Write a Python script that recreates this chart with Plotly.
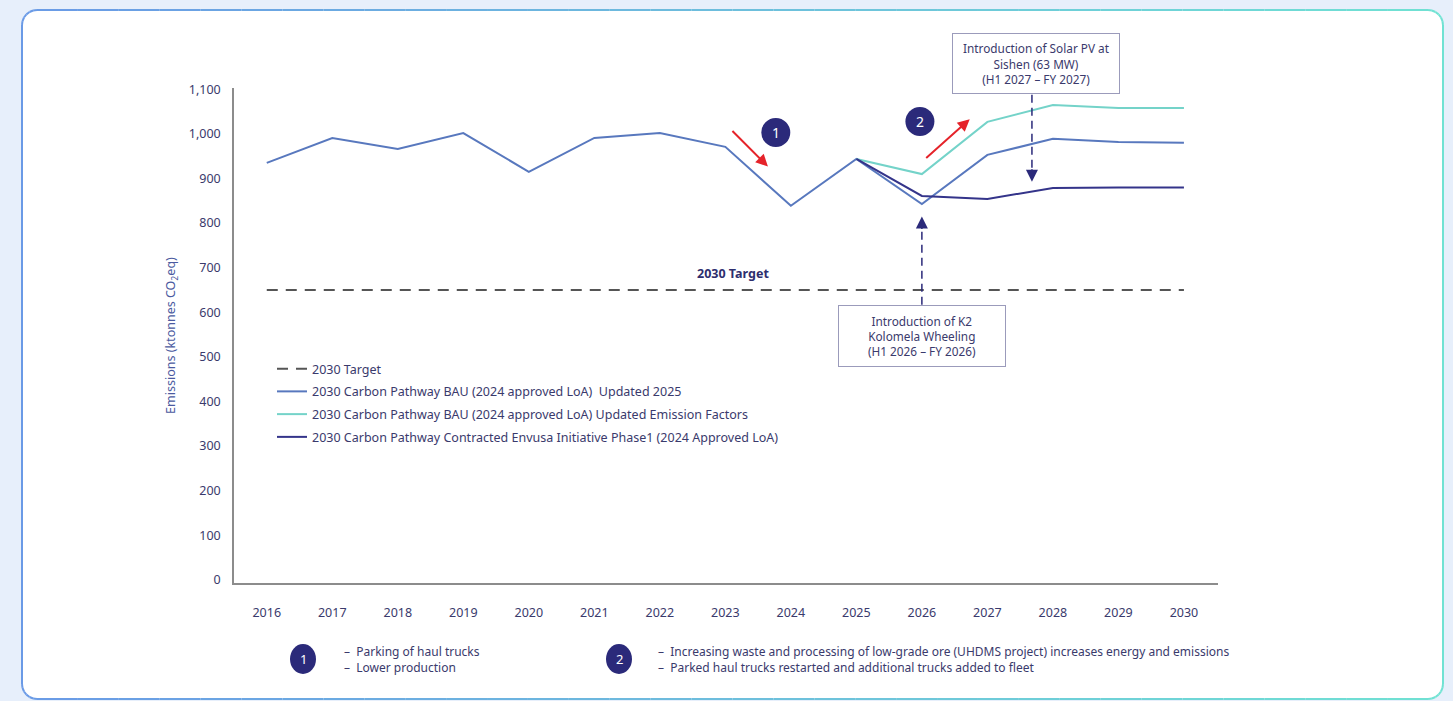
import math
import plotly.graph_objects as go

# ---- data -------------------------------------------------------------
years = list(range(2016, 2031))
bau_updated_2025 = [935, 991, 966, 1002, 915, 991, 1002, 971, 839, 944, 843, 953, 989, 982, 980]

pathway_years = list(range(2025, 2031))
bau_emission_factors = [944, 910, 1027, 1065, 1058, 1058]
envusa_phase1 = [944, 861, 854, 879, 880, 880]

target_2030 = [650] * len(years)

series_names = [
    "2030 Target",
    "2030 Carbon Pathway BAU (2024 approved LoA)  Updated 2025",
    "2030 Carbon Pathway BAU (2024 approved LoA) Updated Emission Factors",
    "2030 Carbon Pathway Contracted Envusa Initiative Phase1 (2024 Approved LoA)",
]
y_ticks = list(range(0, 1101, 100))

note_1 = ["Parking of haul trucks", "Lower production"]
note_2 = [
    "Increasing waste and processing of low-grade ore (UHDMS project) increases energy and emissions",
    "Parked haul trucks restarted and additional trucks added to fleet",
]

# ---- styling ----------------------------------------------------------
W, H = 1453, 701
ML, MR, MT, MB = 234, 235, 88, 118
PW, PH = W - ML - MR, H - MT - MB

FONT = "Noto Sans"
TXT = "#3a3a6c"
NAVY = "#2b2a7a"
BLUE = "#5878be"
TEAL = "#74d3c9"
DARK = "#34348a"
RED = "#e5232a"


def px(x):
    return (x - ML) / PW


def py(y):
    return (H - MB - y) / PH


fig = go.Figure()

fig.add_trace(go.Scatter(
    x=years, y=target_2030, mode="lines", name=series_names[0],
    line=dict(color="#555555", width=2, dash="11px,8px"), legendgroup="a"))
fig.add_trace(go.Scatter(
    x=years, y=bau_updated_2025, mode="lines", name=series_names[1],
    line=dict(color=BLUE, width=2), legendgroup="b"))
fig.add_trace(go.Scatter(
    x=pathway_years, y=bau_emission_factors, mode="lines", name=series_names[2],
    line=dict(color=TEAL, width=2), legendgroup="c"))
fig.add_trace(go.Scatter(
    x=pathway_years, y=envusa_phase1, mode="lines", name=series_names[3],
    line=dict(color=DARK, width=2), legendgroup="d"))

shapes = []
annotations = []

# ---- card background with a blue-to-teal rim --------------------------
x0, x1, y0, y1, r = 22, 1443, 10, 699, 15
shapes.append(dict(
    type="path", xref="paper", yref="paper", layer="below",
    path=(f"M{px(x0 + r)},{py(y0)} L{px(x1 - r)},{py(y0)} "
          f"Q{px(x1)},{py(y0)} {px(x1)},{py(y0 + r)} L{px(x1)},{py(y1 - r)} "
          f"Q{px(x1)},{py(y1)} {px(x1 - r)},{py(y1)} L{px(x0 + r)},{py(y1)} "
          f"Q{px(x0)},{py(y1)} {px(x0)},{py(y1 - r)} L{px(x0)},{py(y0 + r)} "
          f"Q{px(x0)},{py(y0)} {px(x0 + r)},{py(y0)} Z"),
    fillcolor="white", line=dict(width=0)))


def rim_color(x):
    t = min(max((x - x0) / (x1 - x0), 0), 1)
    c0, c1 = (106, 154, 230), (112, 226, 211)
    return "rgb(%d,%d,%d)" % tuple(round(a + (b - a) * t) for a, b in zip(c0, c1))


# rim outline as a sequence of short coloured segments
pts = []
for cx, cy, a0 in [(x1 - r, y0 + r, -90), (x1 - r, y1 - r, 0), (x0 + r, y1 - r, 90), (x0 + r, y0 + r, 180)]:
    for k in range(7):
        a = math.radians(a0 + 15 * k)
        pts.append((cx + r * math.cos(a), cy + r * math.sin(a)))
pts.append(pts[0])
dense = []
for (ax_, ay_), (bx_, by_) in zip(pts[:-1], pts[1:]):
    n = max(1, int(abs(bx_ - ax_) // 40))
    for k in range(n):
        dense.append((ax_ + (bx_ - ax_) * k / n, ay_ + (by_ - ay_) * k / n))
dense.append(pts[0])
for (ax_, ay_), (bx_, by_) in zip(dense[:-1], dense[1:]):
    shapes.append(dict(type="line", xref="paper", yref="paper", layer="below",
                       x0=px(ax_), y0=py(ay_), x1=px(bx_), y1=py(by_),
                       line=dict(color=rim_color((ax_ + bx_) / 2), width=2)))


# ---- numbered markers -------------------------------------------------
def badge(x, y, label, xref, yref, w=29, h=29, size=14):
    shapes.append(dict(type="circle", xref=xref, yref=yref,
                       xsizemode="pixel", ysizemode="pixel", xanchor=x, yanchor=y,
                       x0=-w / 2, x1=w / 2, y0=-h / 2, y1=h / 2,
                       fillcolor=NAVY, line=dict(width=0), layer="above"))
    annotations.append(dict(x=x, y=y, xref=xref, yref=yref, text=label, showarrow=False,
                            font=dict(family=FONT, size=size, color="white"),
                            xanchor="center", yanchor="middle"))


badge(2023.77, 1003, "1", "x", "y")
badge(2025.97, 1028, "2", "x", "y")
badge(px(303), py(659), "1", "paper", "paper", w=26, h=30, size=13)
badge(px(619), py(659), "2", "paper", "paper", w=26, h=30, size=13)

# ---- red trend arrows -------------------------------------------------
annotations.append(dict(x=2023.65, y=927, xref="x", yref="y", ax=-37, ay=-37, text="",
                        showarrow=True, arrowhead=2, arrowsize=1.2, arrowwidth=2, arrowcolor=RED))
annotations.append(dict(x=2026.73, y=1033, xref="x", yref="y", ax=-45, ay=40, text="",
                        showarrow=True, arrowhead=2, arrowsize=1.2, arrowwidth=2, arrowcolor=RED))

# ---- initiative call-outs ---------------------------------------------
box_font = dict(family=FONT, size=11.8, color=TXT)
shapes.append(dict(type="line", xref="x", yref="y", x0=2026.0, x1=2026.0, y0=617, y1=800,
                   line=dict(color=NAVY, width=1.5, dash="8px,5px")))
annotations.append(dict(x=2026.0, y=815, xref="x", yref="y", ax=0, ay=14, text="",
                        showarrow=True, arrowhead=2, arrowsize=1.6, arrowwidth=1.5, arrowcolor=NAVY))
shapes.append(dict(type="line", xref="x", yref="y", x0=2027.68, x1=2027.68, y0=1088, y1=910,
                   line=dict(color=NAVY, width=1.5, dash="8px,5px")))
annotations.append(dict(x=2027.68, y=893, xref="x", yref="y", ax=0, ay=-14, text="",
                        showarrow=True, arrowhead=2, arrowsize=1.6, arrowwidth=1.5, arrowcolor=NAVY))

annotations.append(dict(x=2026.0, y=546, xref="x", yref="y",
                        text="Introduction of K2<br>Kolomela Wheeling<br>(H1 2026 – FY 2026)",
                        showarrow=False, font=box_font, align="center",
                        xanchor="center", yanchor="middle",
                        width=164, height=58, bgcolor="white",
                        bordercolor="#9b9bbb", borderwidth=1, borderpad=1))
annotations.append(dict(x=2027.74, y=py(63.5), xref="x", yref="paper",
                        text="Introduction of Solar PV at<br>Sishen (63 MW)<br>(H1 2027 – FY 2027)",
                        showarrow=False, font=box_font, align="center",
                        xanchor="center", yanchor="middle",
                        width=164, height=57, bgcolor="white",
                        bordercolor="#9b9bbb", borderwidth=1, borderpad=1))

annotations.append(dict(x=2023.11, y=686, xref="x", yref="y", text="<b>2030 Target</b>",
                        showarrow=False, font=dict(family=FONT, size=12.5, color="#2e2e6e")))

# ---- footnotes --------------------------------------------------------
note_font = dict(family=FONT, size=12, color=TXT)
for i, line in enumerate(note_1):
    annotations.append(dict(x=px(342), y=py(651 + 16 * i), xref="paper", yref="paper",
                            text="–  " + line, showarrow=False, font=note_font,
                            xanchor="left", yanchor="middle"))
for i, line in enumerate(note_2):
    annotations.append(dict(x=px(656), y=py(651 + 16 * i), xref="paper", yref="paper",
                            text="–  " + line, showarrow=False, font=note_font,
                            xanchor="left", yanchor="middle"))

fig.update_layout(
    width=W, height=H,
    margin=dict(l=ML, r=MR, t=MT, b=MB),
    paper_bgcolor="#e7effb", plot_bgcolor="rgba(0,0,0,0)",
    font=dict(family=FONT, size=12, color=TXT),
    shapes=shapes, annotations=annotations,
    showlegend=True,
    legend=dict(x=px(272), y=py(354), xanchor="left", yanchor="top",
                bgcolor="rgba(0,0,0,0)", font=dict(family=FONT, size=12.5, color=TXT),
                traceorder="grouped", tracegroupgap=3.5, itemwidth=30),
    xaxis=dict(range=[2015.5, 2030.52], tickmode="array", tickvals=years,
               ticktext=[str(y) for y in years], showgrid=False, zeroline=False,
               showline=True, linecolor="#8c8c8c", linewidth=1.5,
               ticks="outside", ticklen=17, tickcolor="rgba(0,0,0,0)",
               tickfont=dict(family=FONT, size=12.5, color=TXT)),
    yaxis=dict(range=[-7, 1103], tickmode="array", tickvals=y_ticks,
               tickformat=",", showgrid=False, zeroline=False,
               showline=True, linecolor="#8c8c8c", linewidth=1.5,
               ticks="outside", ticklen=9, tickcolor="rgba(0,0,0,0)",
               tickfont=dict(family=FONT, size=12.5, color=TXT),
               title=dict(text="Emissions (ktonnes CO<sub>2</sub>eq)", standoff=10,
                          font=dict(family=FONT, size=12.5, color="#4b5aa0"))),
)

fig.write_html("out.html")
